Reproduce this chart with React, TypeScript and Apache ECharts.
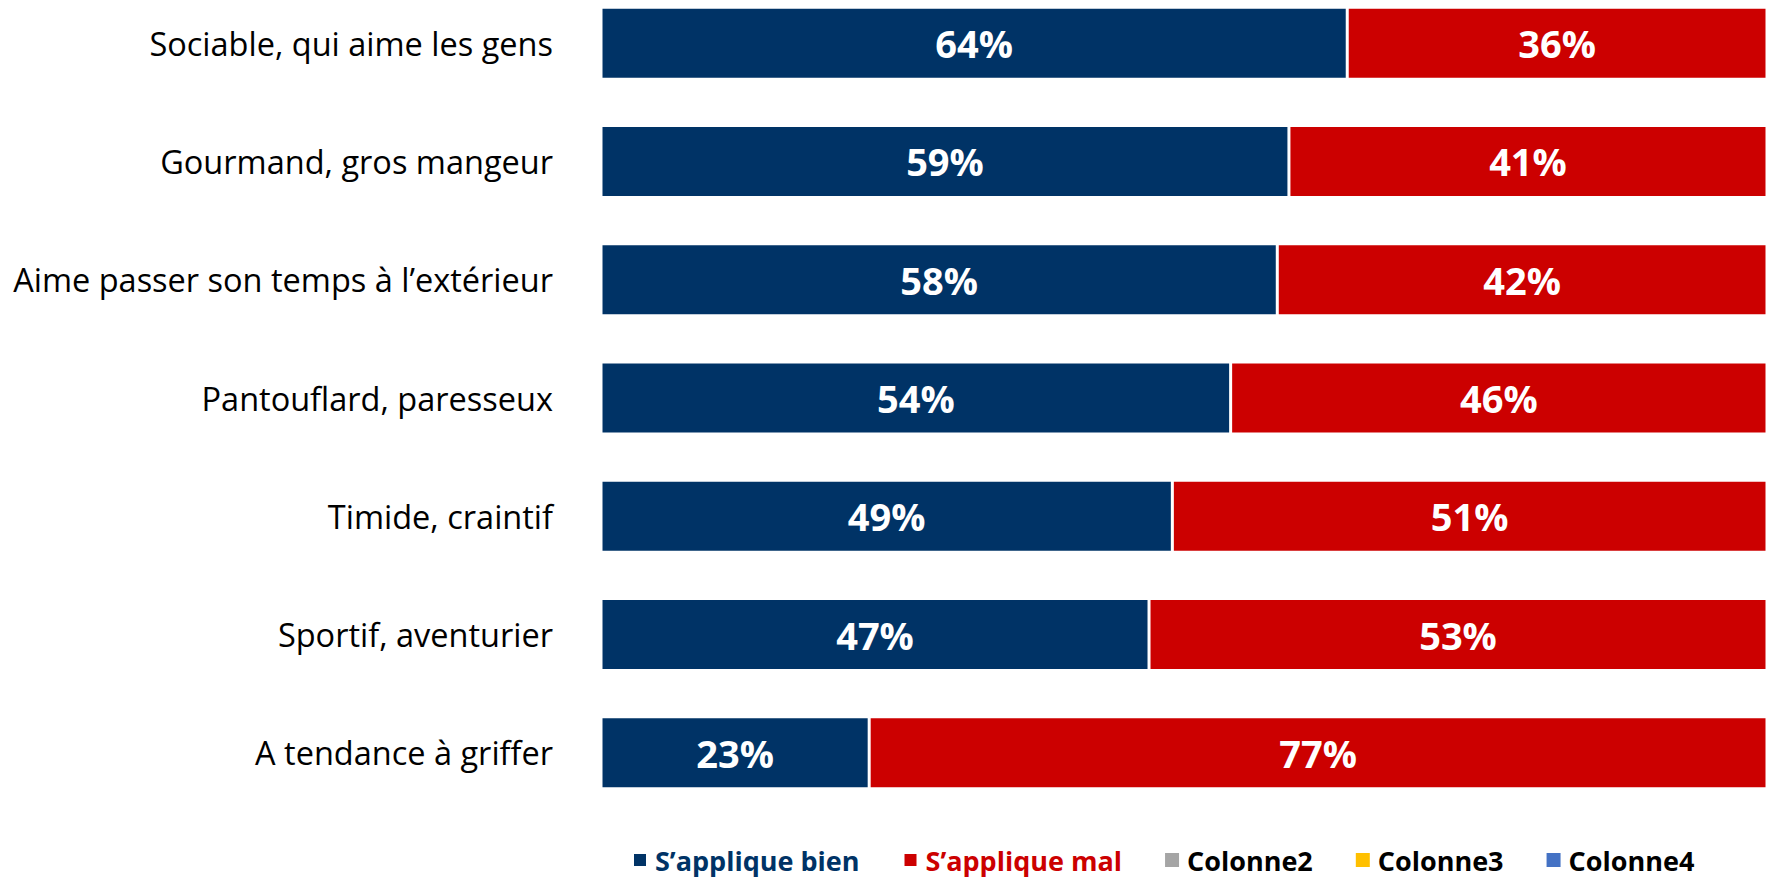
import React, { useEffect, useRef } from "react";
import * as echarts from "echarts";

const categories: string[] = [
  "Sociable, qui aime les gens",
  "Gourmand, gros mangeur",
  "Aime passer son temps à l’extérieur",
  "Pantouflard, paresseux",
  "Timide, craintif",
  "Sportif, aventurier",
  "A tendance à griffer",
];
const appliqueBien: number[] = [64, 59, 58, 54, 49, 47, 23];
const appliqueMal: number[] = [36, 41, 42, 46, 51, 53, 77];
const colonne2: number[] = [];
const colonne3: number[] = [];
const colonne4: number[] = [];

const NAVY = "#003366";
const RED = "#CC0000";
const FONT = "'Open Sans', Calibri, sans-serif";

export default function App() {
  const ref = useRef<HTMLDivElement>(null);
  useEffect(() => {
    if (!ref.current) return;
    const chart = echarts.init(ref.current, undefined, { renderer: "svg" });
    const valueLabel = {
      show: true,
      position: "inside" as const,
      formatter: "{c}%",
      color: "#fff",
      fontFamily: FONT,
      fontWeight: "bold" as const,
      fontSize: 38,
    };
    chart.setOption({
      animation: false,
      textStyle: { fontFamily: FONT },
      grid: { left: 601, right: 4, top: 0, bottom: 66, containLabel: false },
      xAxis: {
        type: "value",
        min: 0,
        max: 100,
        show: false,
      },
      yAxis: {
        type: "category",
        data: categories,
        inverse: true,
        axisLine: { show: false },
        axisTick: { show: false },
        axisLabel: {
          margin: 48,
          fontFamily: FONT,
          fontSize: 32.5,
          color: "#000",
        },
      },
      legend: {
        left: 627,
        top: 857,
        itemWidth: 14,
        itemHeight: 14,
        itemGap: 43,
        icon: "rect",
        textStyle: {
          fontFamily: FONT,
          fontSize: 27,
          lineHeight: 28,
          fontWeight: "bold",
          color: "#000",
          padding: [0, 0, 0, 3],
        },
        data: [
          { name: "S’applique bien", textStyle: { color: NAVY } },
          { name: "S’applique mal", textStyle: { color: RED } },
          { name: "Colonne2" },
          { name: "Colonne3" },
          { name: "Colonne4" },
        ],
      },
      series: [
        {
          name: "S’applique bien",
          type: "bar",
          stack: "total",
          barWidth: 72,
          data: appliqueBien,
          itemStyle: { color: NAVY, borderColor: "#fff", borderWidth: 1.5 },
          label: valueLabel,
        },
        {
          name: "S’applique mal",
          type: "bar",
          stack: "total",
          barWidth: 72,
          data: appliqueMal,
          itemStyle: { color: RED, borderColor: "#fff", borderWidth: 1.5 },
          label: valueLabel,
        },
        {
          name: "Colonne2",
          type: "bar",
          stack: "total",
          barWidth: 72,
          data: colonne2,
          itemStyle: { color: "#A5A5A5" },
        },
        {
          name: "Colonne3",
          type: "bar",
          stack: "total",
          barWidth: 72,
          data: colonne3,
          itemStyle: { color: "#FFC000" },
        },
        {
          name: "Colonne4",
          type: "bar",
          stack: "total",
          barWidth: 72,
          data: colonne4,
          itemStyle: { color: "#4472C4" },
        },
      ],
    });
    return () => chart.dispose();
  }, []);
  return (
    <div
      ref={ref}
      style={{ position: "fixed", left: 0, top: -16, width: 1771, height: 894, background: "#fff" }}
    />
  );
}
